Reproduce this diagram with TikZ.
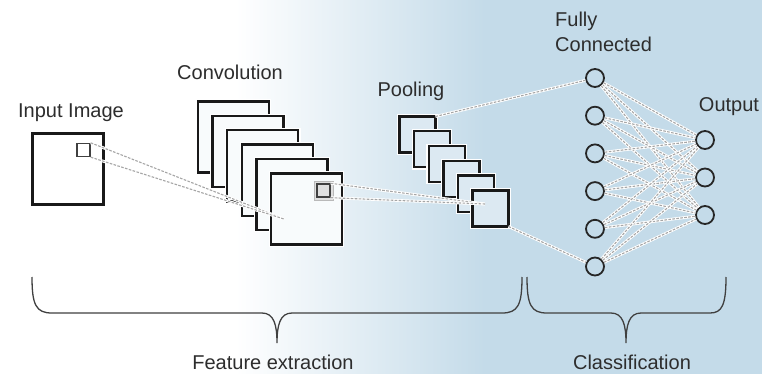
\documentclass[tikz,border=0pt]{standalone}
\usepackage{fontspec}
\setmainfont{Liberation Sans}
\definecolor{bgblue}{RGB}{196,219,233}
\definecolor{txt}{RGB}{45,45,45}
\tikzset{
  sq/.style={draw=black!90, line width=2.4pt, minimum size=#1, inner sep=0pt, outer sep=0pt},
  sqhalo/.style={draw=white, line width=4.6pt, minimum size=#1, inner sep=0pt, outer sep=0pt},
  convsq/.style={sq=71pt, fill=white!88!bgblue},
  poolsq/.style={sq=36pt, fill=white!40!bgblue},
  insqstyle/.style={sq=71pt, fill=white},
  smallsq/.style={draw=black!75, line width=1.4pt, minimum size=13pt, inner sep=0pt},
  halo/.style={draw=gray!55, fill=gray!25, line width=0.8pt, minimum size=19pt, inner sep=0pt},
  neuron/.style={circle, draw=black!85, line width=1.8pt, minimum size=18pt, inner sep=0pt},
  dline/.style={preaction={draw=white, line width=2.8pt}, draw=gray!70, line width=1.1pt, dash pattern=on 2.6pt off 1.4pt},
  lbl/.style={font=\fontsize{20}{24}\selectfont, text=txt, inner sep=0pt, anchor=base},
  brace/.style={draw=black!75, line width=1.3pt},
}
\begin{document}
\begin{tikzpicture}[x=1pt,y=-1pt]
\useasboundingbox (0,0) rectangle (762,374);
% background
\fill[white] (0,0) rectangle (762,374);
\shade[left color=white, right color=bgblue] (235,0) rectangle (485,374);
\fill[bgblue] (484,0) rectangle (762,374);

% input image
\node[insqstyle] (inimg) at (68,169) {};
\node[smallsq] (insq) at (83.5,150) {};

% convolution stack
\foreach \i in {0,...,5} {
  \node[sqhalo=71pt] (ch\i) at ({233.5+14.6*\i},{137+14.4*\i}) {};
  \node[convsq] (c\i) at ({233.5+14.6*\i},{137+14.4*\i}) {};
}
\node[halo] (chalo) at (323.5,190.5) {};
\node[smallsq] (csq) at (323.5,190.5) {};
\coordinate (P1) at (284,219);
\draw[dline] (insq.north east) -- (P1);
\draw[dline] (insq.south east) -- (P1);

% pooling stack
\foreach \i in {0,...,5} {
  \node[sqhalo=36pt] (ph\i) at ({417.5+14.6*\i},{134.5+14.8*\i}) {};
  \node[poolsq] (p\i) at ({417.5+14.6*\i},{134.5+14.8*\i}) {};
}
\coordinate (P2) at (485,204);
\draw[dline] (csq.north east) -- (P2);
\draw[dline] (csq.south east) -- (P2);

% fully connected and output neurons
\foreach \i in {1,...,6} {
  \coordinate (fc\i) at (595,{78+37.7*(\i-1)});
}
\foreach \j in {1,...,3} {
  \coordinate (oc\j) at (705,{140+37.5*(\j-1)});
}
\foreach \i in {1,...,6} {
  \node[neuron] (f\i) at (fc\i) {};
}
\foreach \j in {1,...,3} {
  \node[neuron] (o\j) at (oc\j) {};
}
\draw[dline] (p0.north east) -- (f1);
\draw[dline] (p5.south east) -- (f6);
\foreach \i in {1,...,6} {
  \foreach \j in {1,...,3} {
    \draw[dline] (f\i) -- (o\j);
  }
}

% labels
\node[lbl] (linput) at (71,118) {Input Image};
\node[lbl] (lconv) at (230,80) {Convolution};
\node[lbl] (lpool) at (411,97) {Pooling};
\node[lbl, anchor=base west] (lfully) at (555,27) {Fully};
\node[lbl, anchor=base west] (lconn) at (555,52) {Connected};
\node[lbl] (lout) at (729,112) {Output};

% braces
\draw[brace] (32,277) .. controls (32,305) and (36,313) .. (52,313)
  -- (262,313) .. controls (274,313) and (277,325) .. (277,343)
  .. controls (277,325) and (280,313) .. (292,313)
  -- (502,313) .. controls (518,313) and (522,305) .. (522,277);
\draw[brace] (527,277) .. controls (527,305) and (531,313) .. (547,313)
  -- (611,313) .. controls (623,313) and (626,325) .. (626,343)
  .. controls (626,325) and (629,313) .. (641,313)
  -- (710,313) .. controls (722,313) and (726,305) .. (726,277);

\node[lbl] (lfeat) at (273,369) {Feature extraction};
\node[lbl] (lclass) at (632,369) {Classification};
\end{tikzpicture}
\end{document}
